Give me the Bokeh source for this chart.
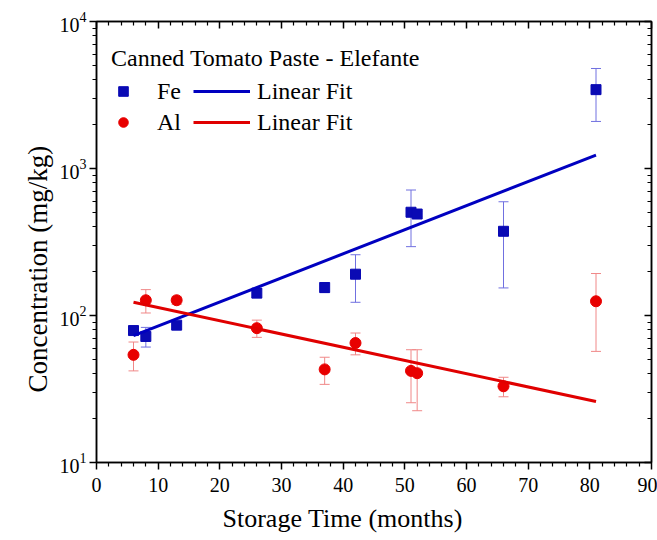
import numpy as np
from bokeh.plotting import figure
from bokeh.models import (ColumnDataSource, Whisker, TeeHead, Legend, LegendItem,
                          LogAxis, LinearAxis, FixedTicker, Range1d, Title)
from bokeh.embed import file_html
from bokeh.resources import INLINE

# ---------------- data ----------------
months = [6, 8, 13, 26, 37, 42, 51, 52, 66, 81]
fe = [79, 72, 86, 142, 155, 191, 504, 490, 374, 3440]
fe_err = [5, 11, 5, 10, 12, 68, 210, 20, 220, 1350]
al = [54, 127, 127, 82, 43, 65, 42, 40.5, 33, 125]
al_err = [12, 23, 8, 11, 9, 11, 16.5, 18, 5, 68]

fit_x = [6, 81]
fe_fit = [73, 1233]
al_fit = [123, 26]

x_ticks = [0, 10, 20, 30, 40, 50, 60, 70, 80, 90]
y_ticks = [10, 100, 1000, 10000]

title_text = "Canned Tomato Paste - Elefante"
x_label = "Storage Time (months)"
y_label = "Concentration (mg/kg)"
FONT = "Liberation Serif"

BLUE = "#0a0ab4"
BLUE_LINE = "#0000c0"
BLUE_ERR = "#7070e0"
RED = "#e80000"
RED_LINE = "#e00000"
RED_ERR = "#f08888"

fe_src = ColumnDataSource(dict(x=months, y=fe,
                               upper=[v + e for v, e in zip(fe, fe_err)],
                               lower=[v - e for v, e in zip(fe, fe_err)]))
al_src = ColumnDataSource(dict(x=months, y=al,
                               upper=[v + e for v, e in zip(al, al_err)],
                               lower=[v - e for v, e in zip(al, al_err)]))
fit_src = ColumnDataSource(dict(x=fit_x, fe=fe_fit, al=al_fit))

p = figure(width=657, height=540, y_axis_type="log",
           x_range=Range1d(0, 90), y_range=Range1d(10, 10000),
           output_backend="svg", toolbar_location=None,
           min_border_left=96, min_border_top=21, min_border_right=6,
           min_border_bottom=0)
p.grid.visible = False
p.outline_line_color = "black"
p.outline_line_width = 1.5

minor_y = [k * 10 ** n for n in range(1, 4) for k in range(2, 10)]
minor_x = [v for v in range(0, 91, 2) if v % 10 != 0]

# error bars
for src, col in ((fe_src, BLUE_ERR), (al_src, RED_ERR)):
    w = Whisker(base="x", upper="upper", lower="lower", source=src,
                line_color=col, line_width=1,
                upper_head=TeeHead(size=10, line_color=col, line_width=1),
                lower_head=TeeHead(size=10, line_color=col, line_width=1))
    w.level = "underlay"
    p.add_layout(w)

fe_r = p.scatter("x", "y", source=fe_src, marker="square", size=10,
                 fill_color=BLUE, line_color=BLUE)
al_r = p.scatter("x", "y", source=al_src, marker="circle", size=11,
                 fill_color=RED, line_color=RED)
fe_l = p.line("x", "fe", source=fit_src, line_color=BLUE_LINE, line_width=3)
al_l = p.line("x", "al", source=fit_src, line_color=RED_LINE, line_width=3)

# axes styling
def style(ax, labels=True):
    ax.axis_line_width = 1.5
    ax.axis_line_color = "black"
    ax.major_tick_line_width = 1.5
    ax.minor_tick_line_width = 1.2
    ax.major_label_text_font = FONT
    ax.axis_label_standoff = 0
    if labels:
        ax.major_label_text_font_size = "20px"
        ax.major_label_text_color = "black"
    else:
        ax.major_label_text_font_size = "1px"
        ax.major_label_text_color = None

xa = p.xaxis[0]
style(xa)
xa.ticker = FixedTicker(ticks=x_ticks, minor_ticks=minor_x)
xa.major_tick_out = 7
xa.major_tick_in = 0
xa.minor_tick_out = 4
xa.minor_tick_in = 0
xa.major_label_standoff = 8

ya = p.yaxis[0]
style(ya)
ya.ticker = FixedTicker(ticks=y_ticks, minor_ticks=minor_y)
ya.major_tick_out = 7
ya.major_tick_in = 0
ya.minor_tick_out = 4
ya.minor_tick_in = 0
ya.major_label_standoff = 3

top = LinearAxis(ticker=FixedTicker(ticks=x_ticks, minor_ticks=minor_x))
style(top, labels=False)
top.major_tick_out = 0
top.major_tick_in = 7
top.minor_tick_out = 0
top.minor_tick_in = 4
top.major_label_standoff = 0
top.major_label_overrides = {t: "" for t in x_ticks}
p.add_layout(top, "above")

right = LogAxis(ticker=FixedTicker(ticks=y_ticks, minor_ticks=minor_y))
style(right, labels=False)
right.major_tick_out = 0
right.major_tick_in = 7
right.minor_tick_out = 0
right.minor_tick_in = 4
right.major_label_standoff = 0
right.major_label_overrides = {t: "" for t in y_ticks}
p.add_layout(right, "right")

# axis titles (as panel titles so they can be offset like the reference)
xt = Title(text=x_label, align="left", offset=126, standoff=15,
           text_font=FONT, text_font_size="26px", text_font_style="normal",
           text_color="black")
p.add_layout(xt, "below")
yt = Title(text=y_label, align="left", offset=70, standoff=8,
           text_font=FONT, text_font_size="27px", text_font_style="normal",
           text_color="black")
p.add_layout(yt, "left")

# legends
def leg_style(lg):
    lg.label_text_font = FONT
    lg.label_text_font_size = "24px"
    lg.label_text_color = "black"
    lg.padding = 0
    lg.margin = 0
    lg.border_line_alpha = 0
    lg.background_fill_alpha = 0
    lg.label_height = 28
    lg.glyph_height = 28
    lg.spacing = 3

leg1 = Legend(items=[LegendItem(label="Fe", renderers=[fe_r]),
                     LegendItem(label="Al", renderers=[al_r])],
              location=(15, 326), title=title_text)
leg_style(leg1)
leg1.title_text_font = FONT
leg1.title_text_font_size = "24px"
leg1.title_text_font_style = "normal"
leg1.title_text_color = "black"
leg1.title_standoff = 5
leg1.glyph_width = 24
leg1.label_standoff = 22
p.add_layout(leg1)

leg2 = Legend(items=[LegendItem(label="Linear Fit", renderers=[fe_l]),
                     LegendItem(label="Linear Fit", renderers=[al_l])],
              location=(97, 326))
leg_style(leg2)
leg2.glyph_width = 57
leg2.label_standoff = 7
p.add_layout(leg2)

open("out.html", "w").write(file_html(p, INLINE))
